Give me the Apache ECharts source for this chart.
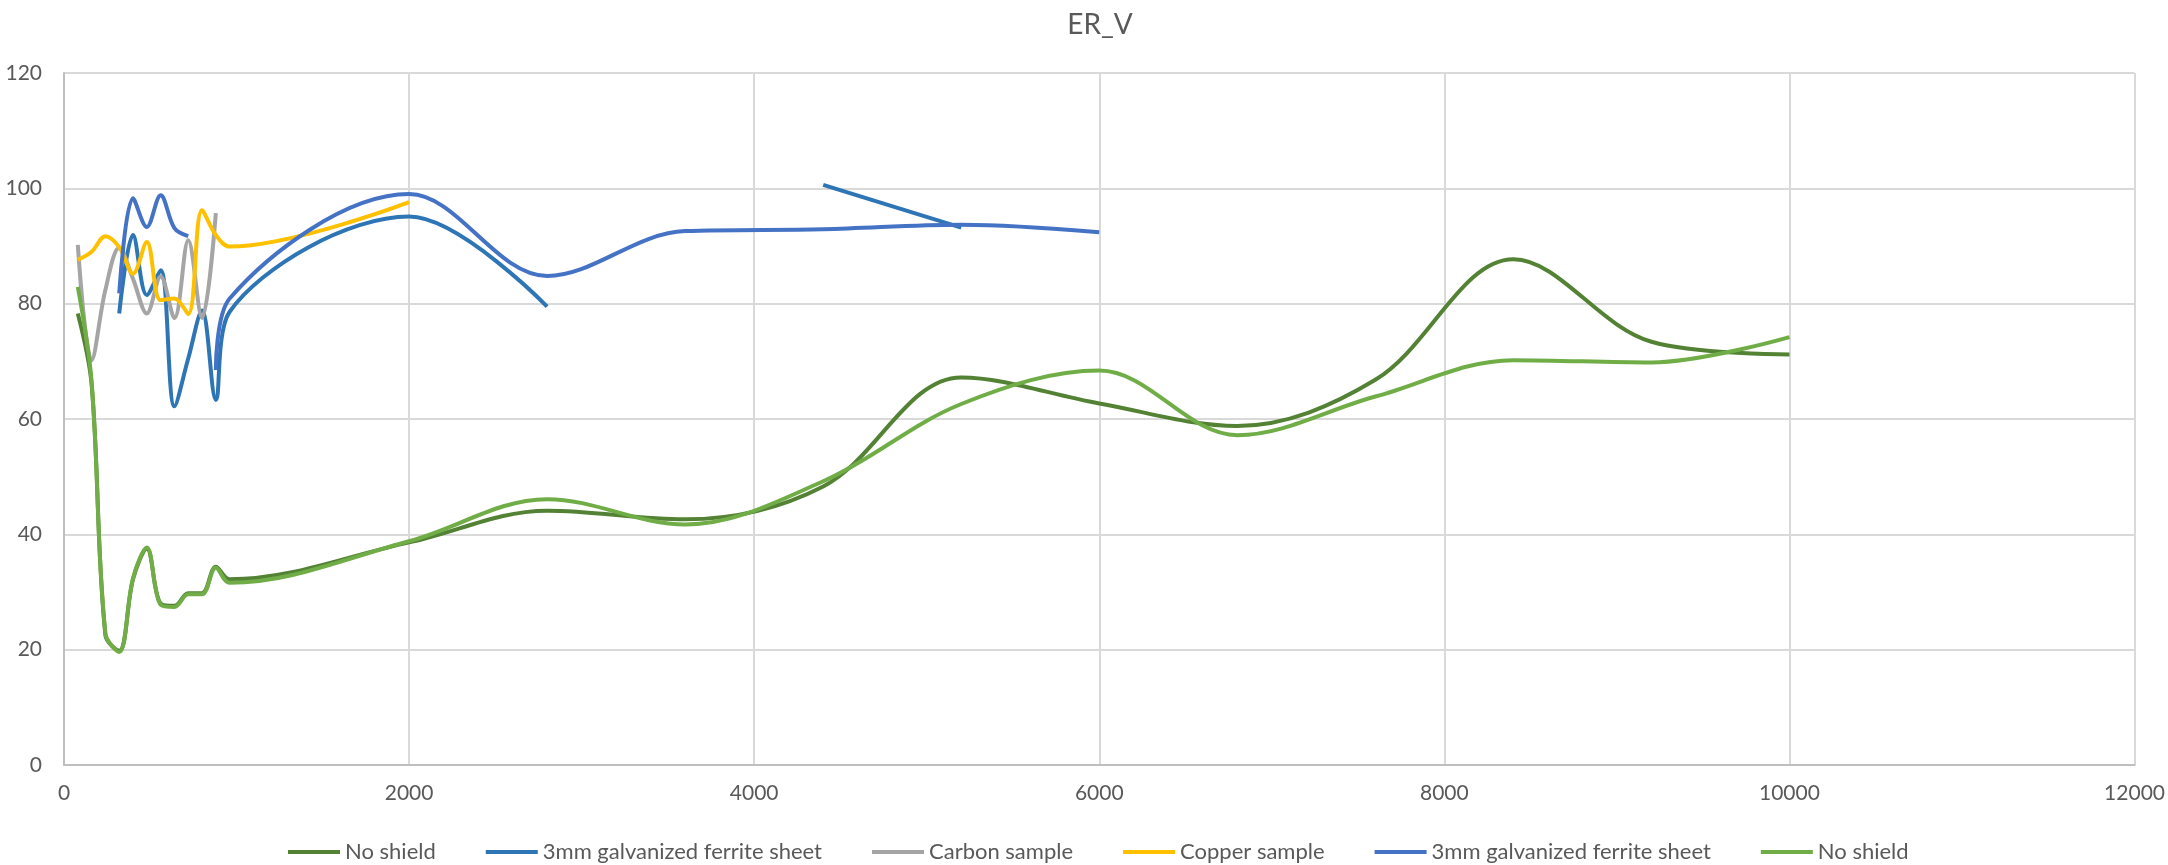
<!DOCTYPE html>
<html>
<head>
<meta charset="utf-8">
<script src="https://cdn.jsdelivr.net/npm/echarts@6/dist/echarts.min.js"></script>
<style>
html,body{margin:0;padding:0;background:#fff;}
#chart{width:2168px;height:865px;}
</style>
</head>
<body>
<div id="chart"></div>
<script>
// x values (frequency)
var xValues = [80,160,240,320,400,480,560,640,720,800,880,960,2000,2800,3600,4400,5200,6000,6800,7600,8400,9200,10000];

// series values aligned to xValues (null = no value)
var noShield1 = [78.3,66.0,22.5,19.8,32.2,37.5,28.0,27.6,29.8,29.8,34.4,32.2,38.6,44.1,42.6,48.3,67.2,62.7,58.8,66.8,87.7,73.4,71.2];
var ferrite1  = [null,null,null,78.3,91.9,81.5,85.8,62.2,70.5,78.8,63.3,78.6,95.1,79.5,null,100.6,93.2,null,null,null,null,null,null];
var carbon    = [90.2,70.2,82.4,89.7,84.3,78.3,84.7,77.5,91.0,77.5,95.7,null,null,null,null,null,null,null,null,null,null,null,null];
var copper    = [87.6,89.0,91.7,89.8,85.2,90.7,80.6,80.9,78.2,96.2,91.9,89.9,97.6,null,null,null,null,null,null,null,null,null,null];
var ferrite2  = [null,null,null,81.8,98.3,93.3,98.8,93.1,91.7,null,68.5,80.9,99.0,84.8,92.6,92.9,93.7,92.4,null,null,null,null,null];
var noShield2 = [82.9,66.5,22.8,19.6,32.4,37.7,27.8,27.4,29.6,29.6,34.2,31.6,38.8,46.1,41.7,49.2,62.6,68.4,57.2,63.9,70.2,69.8,74.2];

var seriesNames = ['No shield','3mm galvanized ferrite sheet','Carbon sample','Copper sample','3mm galvanized ferrite sheet','No shield'];
var seriesColors = ['#548235','#2E75B6','#A5A5A5','#FFC000','#4472C4','#70AD47'];
var seriesValues = [noShield1, ferrite1, carbon, copper, ferrite2, noShield2];

var xTicks = [0,2000,4000,6000,8000,10000,12000];
var yTicks = [0,20,40,60,80,100,120];

function buildData(vals){
  var out = [];
  var first = -1, last = -1;
  for (var i=0;i<vals.length;i++){ if (vals[i]!==null){ if(first<0) first=i; last=i; } }
  for (var j=first;j<=last;j++){
    out.push(vals[j]===null ? [xValues[j], '-'] : [xValues[j], vals[j]]);
  }
  return out;
}

var font = 'Lato, "Open Sans", "Liberation Sans", sans-serif';
var series = seriesValues.map(function(vals, k){
  return {
    name: seriesNames[k] + ' #' + k,
    type: 'line',
    data: buildData(vals),
    smooth: 0.35,
    showSymbol: false,
    symbol: 'none',
    connectNulls: false,
    lineStyle: {color: seriesColors[k], width: 4},
    itemStyle: {color: seriesColors[k]},
    z: 2 + k
  };
});

var chart = echarts.init(document.getElementById('chart'), null, {renderer: 'canvas'});
chart.setOption({
  animation: false,
  backgroundColor: '#ffffff',
  title: {
    text: 'ER_V',
    left: 1095,
    textAlign: 'center',
    top: 6,
    textStyle: {fontFamily: font, fontSize: 28, fontWeight: 'normal', color: '#595959'}
  },
  legend: {
    data: series.map(function(s){return s.name;}),
    formatter: function(name){ return name.replace(/ #\d+$/, ''); },
    left: 283,
    top: 836,
    icon: 'rect',
    itemWidth: 52,
    itemHeight: 4,
    itemGap: 50,
    textStyle: {fontFamily: font, fontSize: 22, color: '#595959'}
  },
  grid: {left: 64, right: 29, top: 73, bottom: 100, containLabel: false},
  xAxis: {
    type: 'value',
    min: xTicks[0], max: xTicks[xTicks.length-1], interval: 2000,
    axisLine: {show: true, lineStyle: {color: '#BFBFBF', width: 2}},
    axisTick: {show: false},
    axisLabel: {fontFamily: font, fontSize: 21, color: '#595959', margin: 18,
      formatter: function(v){ return String(v); }},
    splitLine: {show: true, lineStyle: {color: '#D9D9D9', width: 2}}
  },
  yAxis: {
    type: 'value',
    min: yTicks[0], max: yTicks[yTicks.length-1], interval: 20,
    axisLine: {show: true, lineStyle: {color: '#BFBFBF', width: 2}},
    axisTick: {show: false},
    axisLabel: {fontFamily: font, fontSize: 21, color: '#595959', margin: 22,
      formatter: function(v){ return String(v); }},
    splitLine: {show: true, lineStyle: {color: '#D9D9D9', width: 2}}
  },
  series: series
});
</script>
</body>
</html>
